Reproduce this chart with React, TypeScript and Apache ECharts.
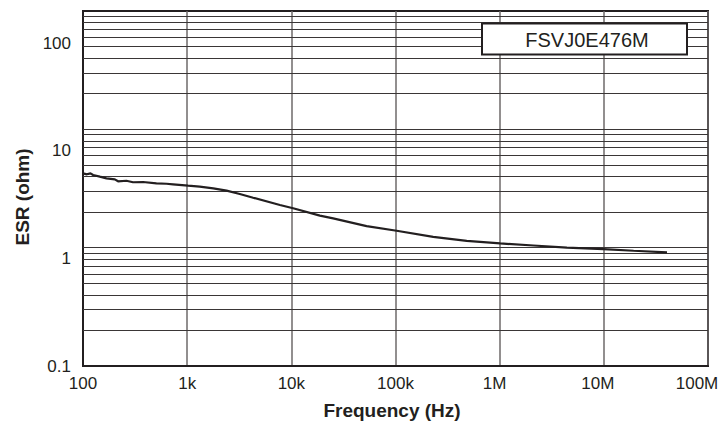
import React, { useEffect, useRef } from "react";
import * as echarts from "echarts";

const freqHz = [100, 109, 118, 125, 145, 168, 202, 217, 261, 302, 377, 507, 633, 732, 1020, 1320, 1780, 2390, 3200, 4300, 7770, 10400, 18800, 25200, 52800, 102500, 230000, 483000, 1010000, 2110000, 4420000, 9930000, 19300000, 40400000];
const esrOhm = [6.19, 6.06, 6.19, 5.97, 5.76, 5.56, 5.44, 5.22, 5.28, 5.11, 5.14, 5.0, 4.95, 4.89, 4.75, 4.65, 4.49, 4.27, 3.98, 3.67, 3.14, 2.93, 2.5, 2.36, 2.0, 1.81, 1.59, 1.46, 1.38, 1.32, 1.26, 1.22, 1.18, 1.14];

const xTickLabels: Record<string, string> = { "100": "100", "1000": "1k", "10000": "10k", "100000": "100k", "1000000": "1M", "10000000": "10M", "100000000": "100M" };
const yTickLabels: Record<string, string> = { "-1": "0.1", "0": "1", "1": "10", "2": "100" };

// background log graph-paper (3 decades) horizontal rules
const paperLines = [2, 3, 4, 5, 6, 7, 8, 9, 10, 20, 30, 40, 50, 60, 70, 80, 90, 100, 200, 300, 400, 500, 600, 700, 800, 900];

const seriesName = "FSVJ0E476M";
const FONT = "'Liberation Sans', Arial, Helvetica, sans-serif";

const labelRich = {
  a: { fontSize: 17, fontFamily: FONT, color: "#231f20" },
  m1: { fontSize: 17, fontFamily: FONT, color: "#231f20", padding: [0, 10, 0, 0] },
  m2: { fontSize: 17, fontFamily: FONT, color: "#231f20", padding: [0, 12, 0, 0] },
  m3: { fontSize: 17, fontFamily: FONT, color: "#231f20", padding: [0, 22, 0, 0] },
};

export default function App() {
  const ref = useRef<HTMLDivElement>(null);
  useEffect(() => {
    if (!ref.current) return;
    const chart = echarts.init(ref.current, undefined, { renderer: "svg" });
    const data = freqHz.map((f, i) => [f, esrOhm[i]]);
    chart.setOption({
      animation: false,
      backgroundColor: "#ffffff",
      textStyle: { fontFamily: FONT },
      grid: { left: 83, right: 12, top: 11, bottom: 57, show: true, borderColor: "#231f20", borderWidth: 2, backgroundColor: "transparent", containLabel: false, outerBoundsMode: "none" },
      xAxis: {
        type: "log",
        logBase: 10,
        min: 100,
        max: 100000000,
        axisLine: { show: true, lineStyle: { color: "#231f20", width: 2 } },
        axisTick: { show: false },
        splitLine: { show: true, lineStyle: { color: "#6e6a6a", width: 1.5 } },
        axisLabel: {
          color: "#231f20",
          fontSize: 17,
          fontFamily: FONT,
          margin: 9,
          showMinLabel: true,
          showMaxLabel: true,
          hideOverlap: false,
          rich: labelRich,
          formatter: (v: number) => {
            const k = String(Math.round(v));
            const t = xTickLabels[k] ?? "";
            if (t === "1M") return "{m1|" + t + "}";
            if (t === "10M") return "{m2|" + t + "}";
            if (t === "100M") return "{m3|" + t + "}";
            return t ? "{a|" + t + "}" : "";
          },
        },
      },
      yAxis: [
        {
          type: "log",
          logBase: 10,
          min: 0.1,
          max: 200,
          axisLine: { show: true, lineStyle: { color: "#231f20", width: 2 } },
          axisTick: { show: false },
          splitLine: { show: false },
          axisLabel: {
            color: "#231f20",
            fontSize: 17,
            fontFamily: FONT,
            margin: 12,
            formatter: (v: number) => {
              const l = Math.log10(v);
              const r = Math.round(l);
              if (Math.abs(l - r) > 1e-6) return "";
              return yTickLabels[String(r)] ?? "";
            },
          },
        },
        {
          type: "log",
          logBase: 10,
          min: 1,
          max: 1000,
          show: false,
        },
      ],
      series: [
        {
          type: "line",
          yAxisIndex: 1,
          data: [[100, 1]],
          showSymbol: false,
          lineStyle: { opacity: 0 },
          silent: true,
          z: 1,
          markLine: {
            silent: true,
            symbol: "none",
            label: { show: false },
            lineStyle: { color: "#3a3636", width: 1, type: "solid" },
            data: paperLines.map((v) => ({ yAxis: v })),
          },
        },
        {
          name: seriesName,
          type: "line",
          yAxisIndex: 0,
          data,
          showSymbol: false,
          smooth: false,
          lineStyle: { color: "#231f20", width: 2.2 },
          z: 5,
        },
      ],
      graphic: [
        {
          type: "rect",
          shape: { x: 482, y: 23.5, width: 205, height: 31 },
          style: { fill: "#ffffff", stroke: "#231f20", lineWidth: 2 },
          z: 100,
        },
        {
          type: "text",
          x: 587,
          y: 40,
          z: 101,
          style: { text: seriesName, fontSize: 20, fontFamily: FONT, fill: "#231f20", align: "center", verticalAlign: "middle" },
        },
        {
          type: "text",
          x: 392,
          y: 410,
          z: 101,
          style: { text: "Frequency (Hz)", fontSize: 19, fontWeight: "bold", fontFamily: FONT, fill: "#231f20", align: "center", verticalAlign: "middle" },
        },
        {
          type: "text",
          x: 22,
          y: 197,
          rotation: Math.PI / 2,
          z: 101,
          style: { text: "ESR (ohm)", fontSize: 19, fontWeight: "bold", fontFamily: FONT, fill: "#231f20", align: "center", verticalAlign: "middle" },
        },
      ],
    });
    return () => chart.dispose();
  }, []);
  return <div ref={ref} style={{ position: "fixed", left: 0, top: 0, width: 720, height: 423 }} />;
}
